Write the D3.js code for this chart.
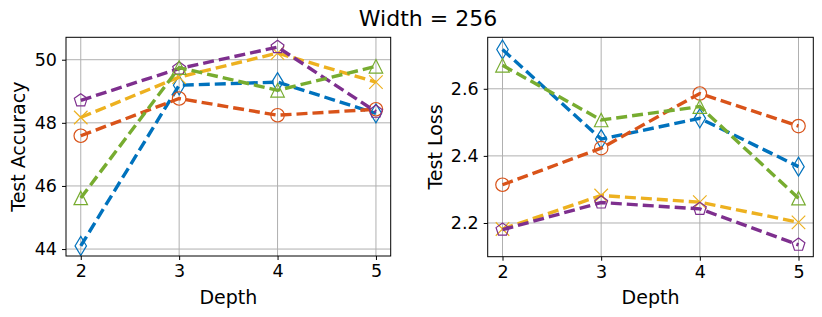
<!DOCTYPE html>
<html>
<head>
<meta charset="utf-8">
<script src="https://cdn.jsdelivr.net/npm/d3@7"></script>
<style>
  body { margin: 0; background: #fff; }
  text { font-family: "DejaVu Sans", sans-serif; fill: #000; }
</style>
</head>
<body>
<div id="chart"></div>
<script>
var depths = [2, 3, 4, 5];

// series names / colours / markers (plot order)
var seriesNames = ["blue", "orange", "yellow", "purple", "green"];
var seriesColors = ["#0072BD", "#D95319", "#EDB120", "#7E2F8E", "#77AC30"];
var seriesMarkers = ["thinDiamond", "circle", "x", "pentagon", "triangle"];

// Test accuracy
var accBlue   = [44.1, 49.19, 49.29, 48.3];
var accOrange = [47.59, 48.77, 48.24, 48.43];
var accYellow = [48.17, 49.45, 50.21, 49.29];
var accPurple = [48.71, 49.72, 50.4, 48.35];
var accGreen  = [45.62, 49.75, 49.03, 49.79];

// Test loss
var lossBlue   = [2.717, 2.45, 2.512, 2.368];
var lossOrange = [2.314, 2.423, 2.586, 2.489];
var lossYellow = [2.182, 2.282, 2.262, 2.202];
var lossPurple = [2.18, 2.261, 2.242, 2.135];
var lossGreen  = [2.67, 2.507, 2.547, 2.274];

var accTicks = [44, 46, 48, 50];
var lossTicks = [2.2, 2.4, 2.6];

var W = 822, H = 317;
var svg = d3.select("#chart").append("svg")
    .attr("width", W)
    .attr("height", H);

svg.append("text")
    .attr("x", 428)
    .attr("y", 26)
    .attr("text-anchor", "middle")
    .style("font-size", "22px")
    .text("Width = 256");

var ms = 13.5; // marker size in px

function markerPath(kind) {
    var h = ms / 2;
    if (kind == "circle") {
        return "M" + h + ",0A" + h + "," + h + " 0 1,1 " + (-h) + ",0A" + h + "," + h + " 0 1,1 " + h + ",0Z";
    }
    if (kind == "thinDiamond") {
        var dy = ms * 0.707, dx = dy * 0.6;
        return "M0," + (-dy) + "L" + dx + ",0L0," + dy + "L" + (-dx) + ",0Z";
    }
    if (kind == "triangle") {
        return "M0," + (-h) + "L" + h + "," + h + "L" + (-h) + "," + h + "Z";
    }
    if (kind == "x") {
        return "M" + (-h) + "," + (-h) + "L" + h + "," + h + "M" + (-h) + "," + h + "L" + h + "," + (-h);
    }
    if (kind == "pentagon") {
        var pts = [];
        for (var i = 0; i < 5; i++) {
            var a = -Math.PI / 2 + i * 2 * Math.PI / 5;
            pts.push([h * Math.cos(a), h * Math.sin(a)]);
        }
        return "M" + pts.map(function(p) { return p.join(","); }).join("L") + "Z";
    }
}

function drawPanel(opts) {
    var x = d3.scaleLinear().domain([1.85, 5.15]).range([opts.left, opts.right]);
    var y = d3.scaleLinear().domain(opts.yDomain).range([opts.bottom, opts.top]);
    var g = svg.append("g");

    // grid
    g.append("g").selectAll("line.vg")
        .data(depths)
        .enter().append("line")
        .attr("x1", x).attr("x2", x)
        .attr("y1", opts.top).attr("y2", opts.bottom)
        .attr("stroke", "#b0b0b0").attr("stroke-width", 1);
    g.append("g").selectAll("line.hg")
        .data(opts.yTicks)
        .enter().append("line")
        .attr("y1", y).attr("y2", y)
        .attr("x1", opts.left).attr("x2", opts.right)
        .attr("stroke", "#b0b0b0").attr("stroke-width", 1);

    // axes
    var xAxis = d3.axisBottom(x).tickValues(depths).tickFormat(d3.format("d"))
        .tickSizeInner(4).tickSizeOuter(0).tickPadding(5);
    var yAxis = d3.axisLeft(y).tickValues(opts.yTicks).tickFormat(opts.fmt)
        .tickSizeInner(4).tickSizeOuter(0).tickPadding(5);
    var gx = g.append("g").attr("transform", "translate(0," + opts.bottom + ")").call(xAxis);
    var gy = g.append("g").attr("transform", "translate(" + opts.left + ",0)").call(yAxis);
    [gx, gy].forEach(function(a) {
        a.select(".domain").remove();
        a.selectAll("text").style("font-size", "17.5px").style("font-family", "DejaVu Sans");
        a.selectAll("line").attr("stroke", "#000").attr("stroke-width", 1);
    });

    var clip = "clip" + opts.id;
    svg.append("clipPath").attr("id", clip).append("rect")
        .attr("x", opts.left).attr("y", opts.top)
        .attr("width", opts.right - opts.left).attr("height", opts.bottom - opts.top);

    var line = d3.line()
        .x(function(d, i) { return x(depths[i]); })
        .y(function(d) { return y(d); });

    opts.series.forEach(function(vals, si) {
        var col = seriesColors[si];
        g.append("g").selectAll("path")
            .data(vals)
            .enter().append("path")
            .attr("transform", function(d, i) { return "translate(" + x(depths[i]) + "," + y(d) + ")"; })
            .attr("d", markerPath(seriesMarkers[si]))
            .attr("fill", "none")
            .attr("stroke", col)
            .attr("stroke-width", 1.2);
        g.append("path")
            .datum(vals)
            .attr("clip-path", "url(#" + clip + ")")
            .attr("d", line)
            .attr("fill", "none")
            .attr("stroke", col)
            .attr("stroke-width", 3.4)
            .attr("stroke-dasharray", "11,5");
    });

    // frame
    g.append("rect")
        .attr("x", opts.left).attr("y", opts.top)
        .attr("width", opts.right - opts.left).attr("height", opts.bottom - opts.top)
        .attr("fill", "none").attr("stroke", "#000").attr("stroke-width", 1);

    g.append("text")
        .attr("x", (opts.left + opts.right) / 2)
        .attr("y", 304)
        .attr("text-anchor", "middle")
        .style("font-size", "19px")
        .text("Depth");

    g.append("text")
        .attr("transform", "translate(" + opts.yLabelX + "," + ((opts.top + opts.bottom) / 2) + ") rotate(-90)")
        .attr("text-anchor", "middle")
        .style("font-size", "19px")
        .text(opts.yLabel);
}

drawPanel({
    id: "acc",
    left: 66, right: 390.7, top: 37.3, bottom: 256,
    yDomain: [43.78, 50.71],
    yTicks: accTicks,
    fmt: d3.format("d"),
    yLabel: "Test Accuracy",
    yLabelX: 25,
    series: [accBlue, accOrange, accYellow, accPurple, accGreen]
});

drawPanel({
    id: "loss",
    left: 487.7, right: 813.3, top: 37.3, bottom: 256.7,
    yDomain: [2.0995, 2.7535],
    yTicks: lossTicks,
    fmt: d3.format(".1f"),
    yLabel: "Test Loss",
    yLabelX: 442,
    series: [lossBlue, lossOrange, lossYellow, lossPurple, lossGreen]
});
</script>
</body>
</html>
